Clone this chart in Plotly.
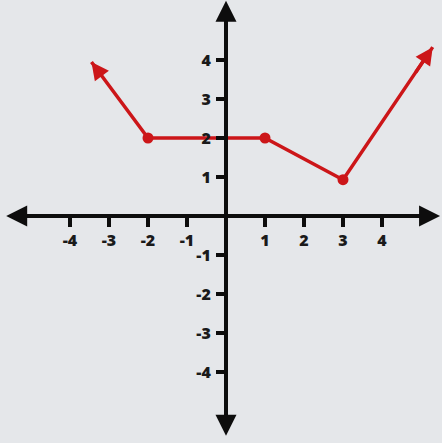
import plotly.graph_objects as go

# piecewise function, ends carry arrows
fx = [-3.45, -2, 1, 3, 5.3]
fy = [3.95, 2, 2, 0.93, 4.33]

# closed dots
dot_x = [-2, 1, 3]
dot_y = [2, 2, 0.93]

tick_vals = [-4, -3, -2, -1, 1, 2, 3, 4]
tick_text = ["-4", "-3", "-2", "-1", "1", "2", "3", "4"]

W, H = 442, 443
px_per_unit = 39
x0_px, y0_px = 226, 216   # origin in pixels from top-left

x_range = [-x0_px / px_per_unit, (W - x0_px) / px_per_unit]
y_range = [-(H - y0_px) / px_per_unit, y0_px / px_per_unit]

red = "#cc1619"
ink = "#0d0d0d"
bg = "#e5e7ea"

fig = go.Figure()
fig.add_trace(go.Scatter(x=fx, y=fy, mode="lines",
                         line=dict(color=red, width=3.5), hoverinfo="skip"))
fig.add_trace(go.Scatter(x=dot_x, y=dot_y, mode="markers",
                         marker=dict(color=red, size=11), hoverinfo="skip"))

# axis lines with arrows on both ends
fig.add_annotation(x=x_range[1] - 0.05, y=0, ax=x_range[0] + 0.12, ay=0,
                   xref="x", yref="y", axref="x", ayref="y", text="",
                   showarrow=True, arrowside="end+start", arrowhead=2,
                   arrowsize=1.05, arrowwidth=4, arrowcolor=ink)
fig.add_annotation(x=0, y=y_range[1] - 0.02, ax=0, ay=y_range[0] + 0.15,
                   xref="x", yref="y", axref="x", ayref="y", text="",
                   showarrow=True, arrowside="end+start", arrowhead=2,
                   arrowsize=1.05, arrowwidth=4, arrowcolor=ink)

# red arrow heads at the ends of the function
for i, j in [(0, 1), (4, 3)]:
    fig.add_annotation(x=fx[i], y=fy[i],
                       ax=fx[i] + (fx[j] - fx[i]) * 0.2,
                       ay=fy[i] + (fy[j] - fy[i]) * 0.2,
                       xref="x", yref="y", axref="x", ayref="y", text="",
                       showarrow=True, arrowhead=2, arrowsize=1.0,
                       arrowwidth=3.5, arrowcolor=red)

tfont = dict(family="Open Sans", size=16, color="#1a1a1a", weight=800)

fig.update_xaxes(range=x_range, anchor="free", position=(H - y0_px) / H,
                 showgrid=False, zeroline=False, showline=False,
                 tickvals=tick_vals, ticktext=tick_text, ticks="outside",
                 ticklen=10, tickwidth=4, tickcolor=ink,
                 ticklabelstandoff=0, tickfont=tfont, fixedrange=True)
fig.update_yaxes(range=y_range, anchor="free", position=x0_px / W,
                 showgrid=False, zeroline=False, showline=False,
                 tickvals=tick_vals, ticktext=tick_text, ticks="outside",
                 ticklen=10, tickwidth=4, tickcolor=ink,
                 ticklabelstandoff=2, tickfont=tfont, fixedrange=True)

fig.update_layout(width=W, height=H, margin=dict(l=0, r=0, t=0, b=0),
                  paper_bgcolor=bg, plot_bgcolor=bg, showlegend=False)

fig.write_html("out.html", config={"displayModeBar": False},
               post_script="document.body.style.margin='0';"
                           "document.body.style.overflow='hidden';")
